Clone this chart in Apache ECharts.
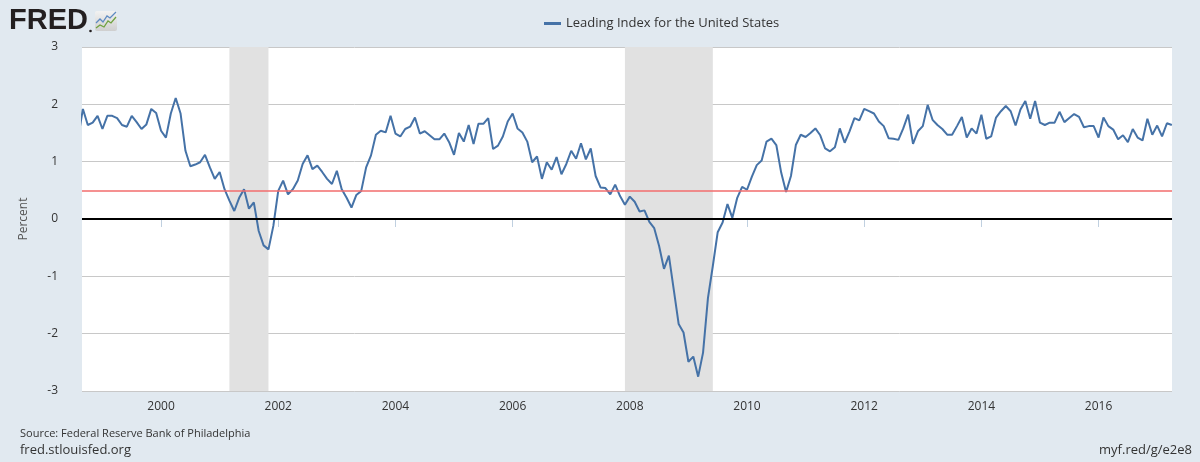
<!DOCTYPE html>
<html>
<head>
<meta charset="utf-8">
<script src="https://cdn.jsdelivr.net/npm/echarts@6/dist/echarts.min.js"></script>
<style>
html,body{margin:0;padding:0;background:#e1e9f0;}
#chart{width:1200px;height:462px;}
</style>
</head>
<body>
<div id="chart"></div>
<script>
// Monthly values, starting Aug 1998
const startYear = 1998;
const startMonth = 8;
const values = [
  1.41, 1.92, 1.64, 1.68, 1.80,
  1.57, 1.80, 1.80, 1.76, 1.64, 1.61, 1.80, 1.69, 1.57, 1.65, 1.92, 1.85,
  1.54, 1.42, 1.84, 2.11, 1.84, 1.19, 0.92, 0.95, 0.99, 1.12, 0.90, 0.70,
  0.82, 0.52, 0.32, 0.14, 0.37, 0.52, 0.18, 0.29, -0.21, -0.46, -0.53, -0.12,
  0.49, 0.67, 0.43, 0.52, 0.67, 0.96, 1.11, 0.87, 0.93, 0.82, 0.70, 0.61,
  0.84, 0.52, 0.37, 0.20, 0.42, 0.49, 0.90, 1.11, 1.47, 1.54, 1.51, 1.80,
  1.49, 1.44, 1.57, 1.61, 1.77, 1.49, 1.53, 1.46, 1.39, 1.39, 1.49, 1.34,
  1.12, 1.50, 1.35, 1.64, 1.31, 1.66, 1.66, 1.76, 1.22, 1.28, 1.44, 1.70,
  1.84, 1.58, 1.51, 1.35, 0.99, 1.09, 0.70, 0.99, 0.86, 1.08, 0.78, 0.96,
  1.19, 1.05, 1.32, 1.04, 1.23, 0.75, 0.55, 0.54, 0.43, 0.60, 0.40, 0.25,
  0.39, 0.30, 0.13, 0.15, -0.05, -0.16, -0.47, -0.87, -0.64, -1.23, -1.83, -1.98,
  -2.49, -2.40, -2.75, -2.33, -1.38, -0.82, -0.23, -0.06, 0.26, 0.02, 0.37, 0.56,
  0.51, 0.74, 0.94, 1.02, 1.35, 1.40, 1.29, 0.81, 0.47, 0.75, 1.29, 1.47,
  1.43, 1.50, 1.58, 1.46, 1.23, 1.18, 1.25, 1.58, 1.33, 1.53, 1.76, 1.72,
  1.92, 1.88, 1.84, 1.70, 1.62, 1.41, 1.40, 1.38, 1.58, 1.82, 1.31, 1.53,
  1.62, 1.99, 1.73, 1.64, 1.57, 1.47, 1.47, 1.62, 1.78, 1.42, 1.58, 1.49,
  1.82, 1.40, 1.44, 1.77, 1.88, 1.97, 1.88, 1.63, 1.91, 2.06, 1.75, 2.06,
  1.68, 1.64, 1.68, 1.68, 1.87, 1.69, 1.76, 1.83, 1.78, 1.60, 1.62, 1.62,
  1.42, 1.77, 1.62, 1.56, 1.39, 1.46, 1.34, 1.57, 1.42, 1.37, 1.75, 1.47,
  1.63, 1.44, 1.67, 1.64
];
const xTickYears = [2000, 2002, 2004, 2006, 2008, 2010, 2012, 2014, 2016];
const yTicks = [-3, -2, -1, 0, 1, 2, 3];
// recessions as [start year, start month, end year, end month]
const recessions = [[2001, 3, 2001, 11], [2007, 12, 2009, 6]];
const refLineValue = 0.5;
const seriesName = 'Leading Index for the United States';

function decYear(y, m) { return y + (m - 1) / 12; }
const data = values.map((v, i) => {
  const mIdx = startMonth - 1 + i;
  const y = startYear + Math.floor(mIdx / 12);
  const m = (mIdx % 12) + 1;
  return [decYear(y, m), v];
});

const chart = echarts.init(document.getElementById('chart'), null, {renderer: 'canvas'});
const font = '"Open Sans", "DejaVu Sans", sans-serif';
const option = {
  backgroundColor: '#e1e9f0',
  animation: false,
  grid: {left: 82, right: 28, top: 47, bottom: 71, show: true, backgroundColor: '#ffffff', borderWidth: 0},
  legend: {
    top: 12, left: 539,
    itemWidth: 17, itemHeight: 3, itemGap: 5,
    icon: 'rect',
    textStyle: {fontFamily: font, fontSize: 13, color: '#333333'},
    data: [{name: seriesName, itemStyle: {color: '#4572a7'}}]
  },
  xAxis: {
    type: 'value',
    min: 1998.651, max: 2017.253,
    axisLine: {show: true, lineStyle: {color: '#c0d0e0', width: 1}},
    axisTick: {show: true, length: 8, lineStyle: {color: '#c0d0e0'}, customValues: xTickYears},
    axisLabel: {customValues: xTickYears, color: '#333333', fontFamily: font, fontSize: 12, margin: 10, formatter: v => String(Math.round(v))},
    splitLine: {show: false}
  },
  yAxis: {
    type: 'value',
    min: -3, max: 3, interval: 1,
    name: 'Percent', nameLocation: 'middle', nameGap: 52, nameRotate: 90,
    nameTextStyle: {fontFamily: font, fontSize: 12, color: '#555555'},
    axisLine: {show: false}, axisTick: {show: false},
    axisLabel: {color: '#333333', fontFamily: font, fontSize: 12, margin: 24},
    splitLine: {lineStyle: {color: '#c8c8c8', width: 1}}
  },
  series: [
    {
      name: 'bands', type: 'line', data: data, z: 1, silent: true,
      lineStyle: {opacity: 0}, showSymbol: false, symbol: 'none',
      markArea: {
        silent: true,
        itemStyle: {color: '#e1e1e1'},
        data: recessions.map(r => [{xAxis: decYear(r[0], r[1])}, {xAxis: decYear(r[2], r[3])}])
      },
      markLine: {
        silent: true, symbol: 'none', label: {show: false},
        data: [
          {yAxis: 0, lineStyle: {color: '#000000', width: 2, type: 'solid'}},
          {yAxis: refLineValue, lineStyle: {color: '#f26d6d', width: 1.5, type: 'solid'}}
        ]
      }
    },
    {
      name: seriesName, type: 'line', data: data, z: 3,
      showSymbol: false, symbol: 'none',
      lineStyle: {color: '#4572a7', width: 2},
      itemStyle: {color: '#4572a7'}
    }
  ],
  graphic: [
    {type: 'text', left: 9, top: 6, style: {text: 'FRED', font: 'bold 29px "Liberation Sans", Arial, sans-serif', fill: '#231f20'}},
    {type: 'circle', shape: {cx: 90.5, cy: 31, r: 1.3}, style: {fill: '#231f20'}},
    {type: 'rect', shape: {x: 95, y: 11, width: 22, height: 20, r: 2},
      style: {fill: new echarts.graphic.LinearGradient(0, 0, 0, 1, [{offset: 0, color: '#f2f2f2'}, {offset: 1, color: '#cfcfcf'}])}},
    {type: 'polyline', shape: {points: [[96, 23], [100, 19], [103, 22], [107, 16], [110, 18], [116, 12]]}, style: {stroke: '#5d8ac2', lineWidth: 1.3, fill: null}},
    {type: 'polyline', shape: {points: [[96, 28], [100, 25], [104, 27], [108, 21], [111, 23], [116, 17]]}, style: {stroke: '#6fa23f', lineWidth: 1.3, fill: null}},
    {type: 'text', left: 20, top: 428, style: {text: 'Source: Federal Reserve Bank of Philadelphia', font: '11px "Open Sans", sans-serif', fill: '#333333'}},
    {type: 'text', left: 20, top: 444, style: {text: 'fred.stlouisfed.org', font: '13px "Open Sans", sans-serif', fill: '#333333'}},
    {type: 'text', right: 8, top: 444, style: {text: 'myf.red/g/e2e8', font: '13px "Open Sans", sans-serif', fill: '#333333'}}
  ]
};
chart.setOption(option);
</script>
</body>
</html>
